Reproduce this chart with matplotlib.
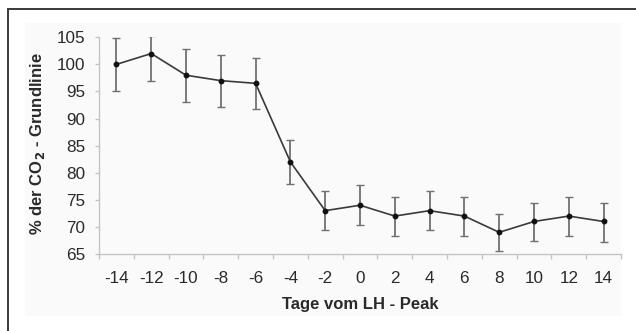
import matplotlib
matplotlib.use("Agg")
import matplotlib.pyplot as plt
from matplotlib.patches import Rectangle
import numpy as np

plt.rcParams['font.family'] = ['Liberation Sans', 'DejaVu Sans']

# Days relative to the LH peak and mean CO2 level in % of baseline
days = [-14, -12, -10, -8, -6, -4, -2, 0, 2, 4, 6, 8, 10, 12, 14]
mean_pct = [100, 102, 98, 97, 96.5, 82, 73, 74, 72, 73, 72, 69, 71, 72, 71]
err_low = [4.9, 5.0, 4.9, 4.8, 4.7, 4.1, 3.6, 3.65, 3.6, 3.65, 3.6, 3.5, 3.6, 3.6, 3.7]
err_high = [4.9, 3.2, 4.8, 4.8, 4.7, 4.0, 3.7, 3.65, 3.6, 3.65, 3.6, 3.4, 3.4, 3.6, 3.5]
y_ticks = [65, 70, 75, 80, 85, 90, 95, 100, 105]

W, H = 636, 331
fig = plt.figure(figsize=(W / 100, H / 100), dpi=100)
fig.patch.set_facecolor('white')

# outer frame (left and top edges visible)
fig.patches.append(Rectangle((7.5 / W, -0.2), 1.2, 1.2 - 9 / H,
                             transform=fig.transFigure, fill=False,
                             edgecolor='#3a3a3a', linewidth=1.4, zorder=-2))
# light chart area
fig.patches.append(Rectangle((25 / W, 1 - 316 / H), (621 - 25) / W, (316 - 23) / H,
                             transform=fig.transFigure, facecolor='#fafafa',
                             edgecolor='none', zorder=-1))

ax = fig.add_axes([99 / W, 1 - 254 / H, (621 - 99) / W, (254 - 37.3) / H])
ax.set_zorder(2)
ax.set_facecolor('none')

x = np.arange(len(days))
ax.errorbar(x, mean_pct, yerr=[err_low, err_high], fmt='none',
            ecolor='#707070', elinewidth=1.3, capsize=3.2, capthick=1.0,
            zorder=2)
ax.plot(x, mean_pct, color='#3a3a3a', linewidth=1.2, marker='o',
        markersize=3.2, markerfacecolor='#111111', markeredgecolor='#111111',
        zorder=3)

ax.set_xlim(-0.5, len(days) - 0.5)
ax.set_ylim(65, 105)
ax.set_yticks(y_ticks)
ax.set_yticklabels([str(v) for v in y_ticks])
ax.set_xticks(x)
ax.set_xticklabels([str(d) for d in days])
ax.set_xticks(np.arange(-0.5, len(days), 1.0), minor=True)

for s in ['top', 'right']:
    ax.spines[s].set_visible(False)
for s in ['left', 'bottom']:
    ax.spines[s].set_color('#c4c4c4')
    ax.spines[s].set_linewidth(1.0)

ax.tick_params(axis='x', which='major', length=0, pad=12.5,
               labelsize=12.3, labelcolor='#2a2a2a')
ax.tick_params(axis='x', which='minor', length=3.5, width=1.0,
               color='#c4c4c4', direction='out')
ax.tick_params(axis='y', which='major', length=3, width=1.0,
               color='#c4c4c4', pad=7, labelsize=12.3, labelcolor='#2a2a2a')

fig.text(38 / W, 1 - 144 / H, '% der CO$_\\mathbf{2}$ - Grundlinie',
         rotation=90, ha='center', va='center', fontsize=12,
         fontweight='bold', color='#2a2a2a')
fig.text(360 / W, 1 - 305 / H, 'Tage vom LH - Peak', ha='center',
         va='center', fontsize=12, fontweight='bold', color='#2a2a2a')

fig.savefig('out.png', dpi=100)
